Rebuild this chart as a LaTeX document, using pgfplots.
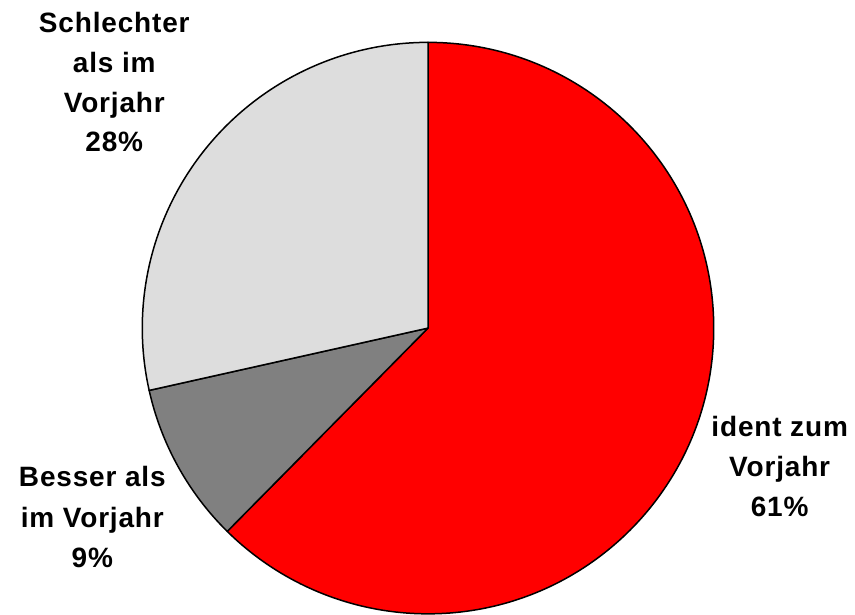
\documentclass[border=0pt]{standalone}
\usepackage{fontspec}
\usepackage{pgfplots}
\pgfplotsset{compat=1.18}
\newfontfamily\lab{Liberation Sans}[LetterSpace=3]
\definecolor{sred}{HTML}{FF0000}
\definecolor{sdark}{HTML}{808080}
\definecolor{slight}{HTML}{DDDDDD}
\begin{document}
\begin{tikzpicture}
\begin{axis}[
  width=427.5pt, height=306.5pt, scale only axis,
  xmin=0, xmax=855, ymin=0, ymax=613,
  hide axis, clip=false,
]
% pie values (percent, measured from the reference)
\def\va{62.4}\def\vb{9.1}\def\vc{28.5}
\pgfmathsetmacro{\aA}{90}
\pgfmathsetmacro{\aB}{90-3.6*\va}
\pgfmathsetmacro{\aC}{\aB-3.6*\vb}
\pgfmathsetmacro{\aD}{\aC-3.6*\vc}
\draw[opacity=0] (axis cs:0,0) rectangle (axis cs:855,613);
\filldraw[fill=sred, draw=black, line width=0.75pt, line join=round]
  (axis cs:428,285) -- ++(\aA:143pt) arc[start angle=\aA, end angle=\aB, radius=143pt] -- cycle;
\filldraw[fill=sdark, draw=black, line width=0.75pt, line join=round]
  (axis cs:428,285) -- ++(\aB:143pt) arc[start angle=\aB, end angle=\aC, radius=143pt] -- cycle;
\filldraw[fill=slight, draw=black, line width=0.75pt, line join=round]
  (axis cs:428,285) -- ++(\aC:143pt) arc[start angle=\aC, end angle=\aD, radius=143pt] -- cycle;
\tikzset{lb/.style={anchor=base, inner sep=0pt, font=\lab\bfseries\fontsize{14}{16}\selectfont}}
\node[lb] at (axis cs:114,581) {Schlechter};
\node[lb] at (axis cs:114,541) {als im};
\node[lb] at (axis cs:114,501) {Vorjahr};
\node[lb] at (axis cs:114,462) {28\%};
\node[lb] at (axis cs:780,176) {ident zum};
\node[lb] at (axis cs:780,136) {Vorjahr};
\node[lb] at (axis cs:780,96) {61\%};
\node[lb] at (axis cs:92,126) {Besser als};
\node[lb] at (axis cs:92,85) {im Vorjahr};
\node[lb] at (axis cs:92,45) {9\%};
\end{axis}
\end{tikzpicture}
\end{document}
